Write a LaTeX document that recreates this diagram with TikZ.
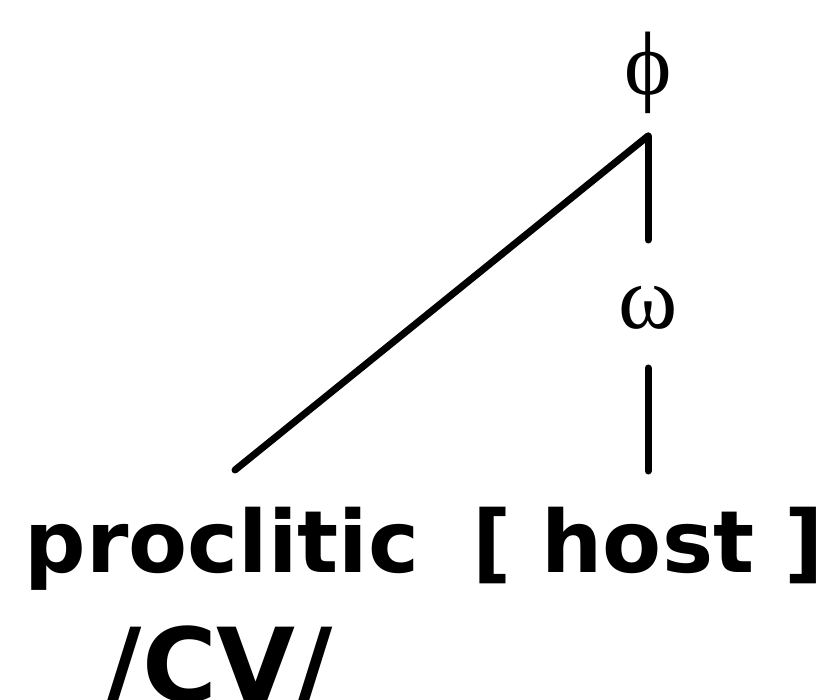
\documentclass[tikz,border=0pt]{standalone}
\usepackage{fontspec}
\setmainfont{DejaVu Sans}
\newfontfamily\grkfont{Liberation Serif}
\begin{document}
\begin{tikzpicture}[x=1pt,y=-1pt,
  edge/.style={line width=7pt, line cap=round},
  lbl/.style={font=\fontsize{86}{100}\selectfont\bfseries, inner sep=0pt, anchor=base},
  grk/.style={font=\fontsize{90}{100}\selectfont\grkfont, inner sep=0pt}]
\useasboundingbox (0,0) rectangle (827,700);
\node[grk, anchor=base] (phi) at (648,95) {ϕ};
\node[grk, anchor=base] (omega) at (648,329) {ω};
\coordinate (top) at (648,136);
\coordinate (pl) at (235,470);
\coordinate (ua) at (648,240);
\coordinate (lb) at (648,368);
\coordinate (le) at (648,471);
\node[lbl] (proc) at (222,572) {proclitic};
\node[lbl] (host) at (648,572) {[ host ]};
\node[lbl, font=\fontsize{102}{110}\selectfont\bfseries] (cv) at (219,701) {/CV/};
\draw[edge] (top) -- (pl);
\draw[edge] (top) -- (ua);
\draw[edge] (lb) -- (le);
\end{tikzpicture}
\end{document}
